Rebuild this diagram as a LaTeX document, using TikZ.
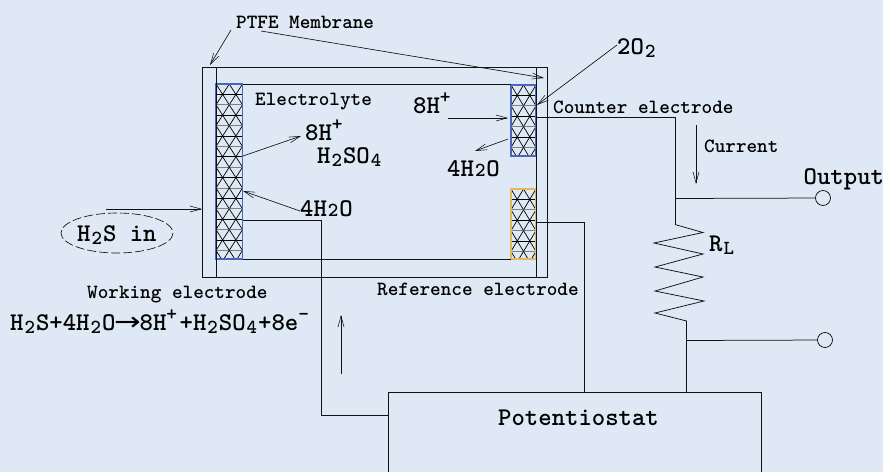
\documentclass[tikz,border=0pt]{standalone}
\usepackage{fontspec}
\usetikzlibrary{arrows.meta,calc}
\newfontfamily\arrowfont{DejaVu Sans}
\definecolor{bgc}{HTML}{DEE9F5}
\definecolor{lin}{HTML}{111111}
\definecolor{blu}{HTML}{4A66B8}
\definecolor{ora}{HTML}{E0B860}
\newcommand{\sbs}[1]{\hspace{0.04em}\raisebox{-0.14em}{\scalebox{0.78}{#1}}\hspace{0.04em}}
\newcommand{\sbz}[1]{\hspace{0.04em}\scalebox{0.78}{#1}\hspace{0.04em}}
\newcommand{\sps}[1]{\raisebox{0.38em}{\scalebox{0.8}{#1}}}
\tikzset{
  x=1pt,y=-1pt,
  wire/.style={draw=lin,line width=0.75pt},
  frame/.style={draw=lin,line width=1pt},
  barb/.style={draw=lin,line width=0.65pt,-{Straight Barb[length=11pt,width=6pt,line width=0.55pt]}},
  small/.style={anchor=base west,inner sep=0pt,text=black,font=\ttfamily\bfseries\fontsize{20.2}{20}\selectfont},
  big/.style={anchor=base west,inner sep=0pt,text=black,font=\ttfamily\bfseries\fontsize{25.5}{26}\selectfont},
  term/.style={circle,draw=lin,line width=0.75pt,inner sep=0pt,minimum size=15pt},
}
\newcommand{\mesh}[5]{% x1 y1 x2 y2 colour
  \begin{scope}
    \clip (#1,#2) rectangle (#3,#4);
    \pgfmathsetmacro{\hh}{20.8}
    \pgfmathsetmacro{\ww}{(#3-#1)/2}
    \foreach \k in {0,...,11}{
      \pgfmathsetmacro{\yy}{#2+\k*\hh}
      \draw[black,line width=0.8pt] (#1,{\yy-\hh/2}) -- (#3,{\yy-\hh/2});
      \draw[gray,line width=1pt] (#1,\yy) -- (#3,\yy);
      \foreach \j in {0,1}{
        \pgfmathsetmacro{\xa}{#1+\j*\ww}
        \pgfmathsetmacro{\xb}{\xa+\ww}
        \draw[black,line width=0.7pt] (\xa,\yy) -- (\xb,{\yy+\hh}) (\xb,\yy) -- (\xa,{\yy+\hh});
      }
    }
  \end{scope}
  \draw[#5,line width=1.1pt] (#1,#2) rectangle (#3,#4);
}
\begin{document}
\begin{tikzpicture}
\useasboundingbox (0,0) rectangle (883,472);
\fill[bgc] (0,0) rectangle (883,472);

% electrodes
\mesh{216}{84}{242.5}{259}{blu}
\mesh{511}{85}{536}{156}{blu}
\mesh{511}{189}{536}{259}{ora}

% cell body
\node[frame,rectangle,inner sep=0pt,minimum width=345pt,minimum height=210pt] (cell) at (374.5,172) {};
\coordinate (memL1) at (216,67); \coordinate (memL2) at (216,277);
\coordinate (memR1) at (536,67); \coordinate (memR2) at (536,277);
\draw[frame] (memL1) -- (memL2);
\draw[frame] (memR1) -- (memR2);
\coordinate (ch1) at (243,84.5); \coordinate (ch2) at (511,84.5);
\coordinate (ch3) at (243,259.5); \coordinate (ch4) at (511,259.5);
\draw[frame] (ch1) -- (ch2);
\draw[frame] (ch3) -- (ch4);
\coordinate (th1) at (536.5,156); \coordinate (th2) at (536.5,189);
\draw[lin,line width=1.8pt] (th1) -- (th2);

% potentiostat (open at the picture's lower edge)
\coordinate (pA) at (388,472); \coordinate (pB) at (388,392);
\coordinate (pC) at (761,392); \coordinate (pD) at (761,472);
\draw[wire] (pA) -- (pB) -- (pC) -- (pD);
\node[big] (pot) at (498,425) {Potentiostat};

% wires
\coordinate (wW) at (243,220.5); \coordinate (wW1) at (321,220.5); \coordinate (wW2) at (321,415); \coordinate (wW3) at (388,415);
\draw[wire] (wW) -- (wW1) -- (wW2) -- (wW3);
\coordinate (wR) at (537,222); \coordinate (wR1) at (584.5,222); \coordinate (wR2) at (584.5,392);
\draw[wire] (wR) -- (wR1) -- (wR2);
\coordinate (wC) at (537,117); \coordinate (wC1) at (675,117); \coordinate (r0) at (675,224.5);
\draw[wire] (wC) -- (wC1) -- (r0);
\coordinate (oJ) at (675,198.5);
\node[term] (out1) at (823,198) {};
\draw[wire] (oJ) -- (out1);
\coordinate (r9) at (686.5,321); \coordinate (bot) at (686.5,392);
\draw[wire] (r0) -- (703,232.5) -- (654,243) -- (703,254) -- (655,267) -- (703,277) -- (655,291) -- (704,301) -- (655,313) -- (r9) -- (bot);
\coordinate (oK) at (686.5,340.5);
\node[term] (out2) at (825,340) {};
\draw[wire] (oK) -- (out2);

% arrows
\coordinate (pt) at (231,30); \coordinate (ptA) at (210,65);
\coordinate (ptB) at (261,31); \coordinate (ptC) at (544,78);
\draw[barb] (pt) -- (ptA);
\draw[barb] (ptB) -- (ptC);
\coordinate (o2a) at (617,45); \coordinate (o2b) at (537,105);
\draw[barb] (o2a) -- (o2b);
\coordinate (h1) at (448,118); \coordinate (h2) at (508,118);
\draw[barb] (h1) -- (h2);
\coordinate (w1) at (508,139); \coordinate (w2) at (475,151);
\draw[barb] (w1) -- (w2);
\coordinate (l1) at (243,156); \coordinate (l2) at (301,136);
\draw[barb] (l1) -- (l2);
\coordinate (l3) at (300,211); \coordinate (l4) at (243,191);
\draw[barb] (l3) -- (l4);
\coordinate (in1) at (106,209); \coordinate (in2) at (202,209);
\draw[barb] (in1) -- (in2);
\coordinate (cu1) at (696,125); \coordinate (cu2) at (696,184);
\draw[barb] (cu1) -- (cu2);
\coordinate (up1) at (341,374); \coordinate (up2) at (341,315);
\draw[barb] (up1) -- (up2);

% H2S ellipse
\draw[lin,line width=0.65pt,dash pattern=on 9pt off 3pt] (117,233) ellipse [x radius=56,y radius=20];

% labels
\node[small] (ptfe) at (236,28) {PTFE Membrane};
\node[small] (elec) at (255,105) {Electrolyte};
\node[big] (hp) at (305,140) {8H\sps{+}};
\node[big] (hso) at (317,163) {H\sbs{2}SO\sbs{4}};
\node[big] (wl) at (300,216) {4H\sbz{2}O};
\node[big] (hr) at (413,113) {8H\sps{+}};
\node[big] (wr) at (447,176) {4H\sbz{2}O};
\node[small] (ce) at (553,113) {Counter electrode};
\node[small] (cur) at (704,152) {Current};
\node[big] (outl) at (803.5,184) {Output};
\node[big] (rl) at (709,251) {R\sbs{L}};
\node[small] (we) at (87,298) {Working electrode};
\node[small] (re) at (377,295) {Reference electrode};
\node[big] (hin) at (77,241) {H\sbs{2}S in};
\node[big] (oo) at (617,54) {2O\sbs{2}};
\node[big] (eq) at (10,330) {H\sbs{2}S+4H\sbs{2}O{\arrowfont\mdseries\hspace{-0.05em}\scalebox{1.25}[1]{→}\hspace{-0.05em}}8H\sps{+}\hspace{0.1em}+H\sbs{2}SO\sbs{4}+8e\sps{-}};
\end{tikzpicture}
\end{document}
